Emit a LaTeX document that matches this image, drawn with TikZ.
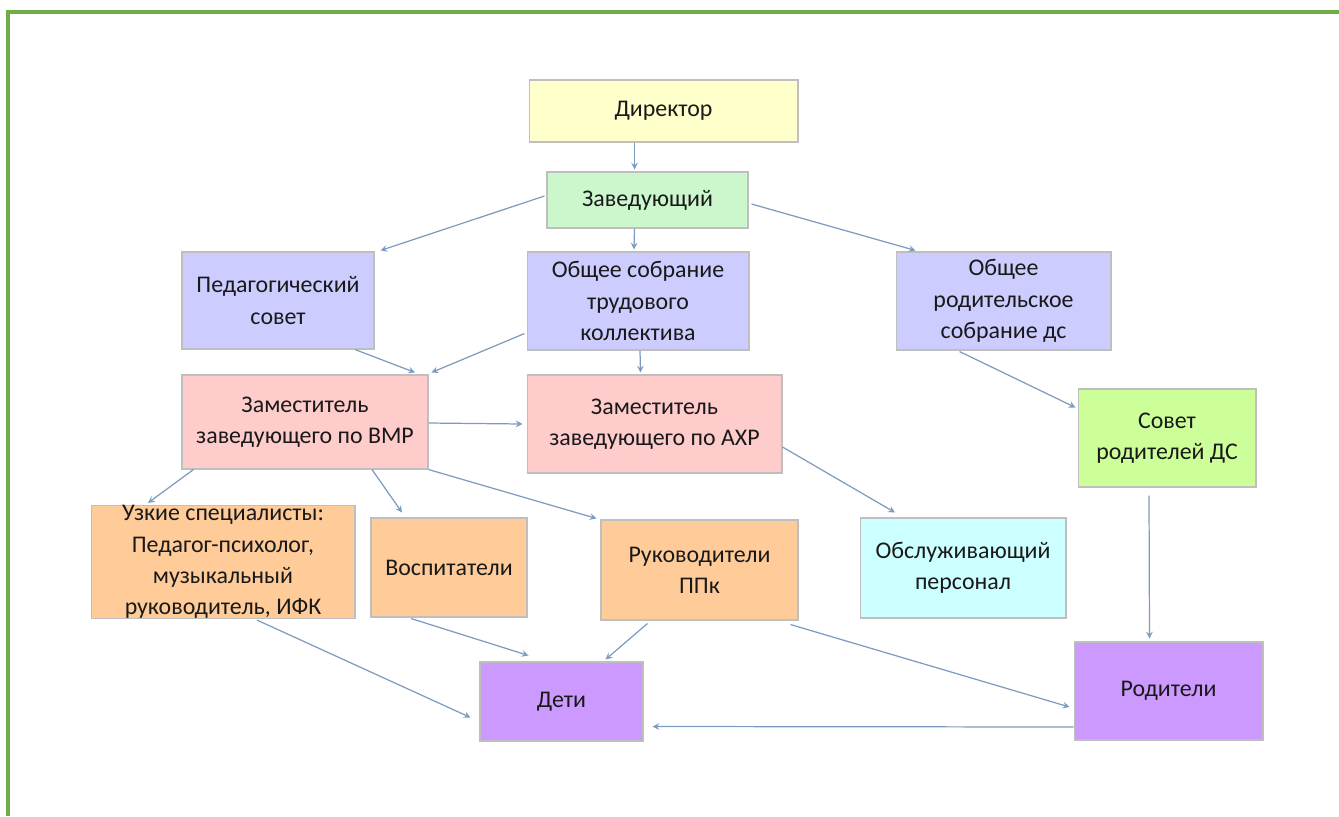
\documentclass[tikz,border=0pt]{standalone}
\usepackage{fontspec}
\setmainfont{Carlito}
\usetikzlibrary{arrows, calc}
\definecolor{frame}{RGB}{112,173,71}
\definecolor{link}{RGB}{125,155,190}
\definecolor{yel}{RGB}{255,255,204}
\definecolor{grn}{RGB}{204,247,204}
\definecolor{lav}{RGB}{204,204,255}
\definecolor{pnk}{RGB}{255,204,204}
\definecolor{lim}{RGB}{204,255,153}
\definecolor{org}{RGB}{255,204,153}
\definecolor{cyn}{RGB}{204,255,255}
\definecolor{prp}{RGB}{204,153,255}
\tikzstyle{unit} = [rectangle, inner sep=0pt, align=center, text=black!90, draw=black!25, line width=0.6pt, font=\fontsize{13.6}{17.8}\selectfont]
\tikzstyle{arrow} = [draw=link, line width=0.7pt, ->, >=stealth]

\begin{document}
\begin{tikzpicture}[x=0.02cm, y=-0.02cm]
\useasboundingbox (0,0) rectangle (1339,816);
\draw [frame, line width=0.08cm] (1339,12) -- (8,12) -- (8,816);

%% NODES

\node (dir) [unit, fill=yel, minimum width=5.38cm, minimum height=1.24cm] at (663.5,111) {Директор};
\node (zav) [unit, fill=grn, minimum width=4.02cm, minimum height=1.12cm] at (647.5,200) {Заведующий};
\node (ped) [unit, fill=lav, minimum width=3.84cm, minimum height=1.94cm] at (278,300.5) {Педагогический\\совет};
\node (sobr) [unit, fill=lav, minimum width=4.44cm, minimum height=1.96cm] at (638,301) {Общее собрание\\трудового\\коллектива};
\node (rod) [unit, fill=lav, minimum width=4.30cm, minimum height=1.96cm] at (1003.5,301) {Общее\\родительское\\собрание дс};
\node (vmr) [unit, fill=pnk, minimum width=4.92cm, minimum height=1.88cm] at (305,422) {Заместитель\\заведующего по ВМР};
\node (ahr) [unit, fill=pnk, minimum width=5.10cm, minimum height=1.96cm] at (654.5,424) {Заместитель\\заведующего по АХР};
\node (sovet) [unit, fill=lim, minimum width=3.56cm, minimum height=1.96cm] at (1167,438) {Совет\\родителей ДС};
\node (uzk) [unit, fill=org, minimum width=5.28cm, minimum height=2.24cm] at (223,562) {Узкие специалисты:\\Педагог-психолог,\\музыкальный\\руководитель, ИФК};
\node (vosp) [unit, fill=org, minimum width=3.12cm, minimum height=1.98cm] at (449,567.5) {Воспитатели};
\node (ppk) [unit, fill=org, minimum width=3.94cm, minimum height=2.00cm] at (699.5,570) {Руководители\\ППк};
\node (obsl) [unit, fill=cyn, minimum width=4.12cm, minimum height=2.00cm] at (963,568) {Обслуживающий\\персонал};
\node (deti) [unit, fill=prp, minimum width=3.26cm, minimum height=1.58cm] at (561.5,701.5) {Дети};
\node (roditeli) [unit, fill=prp, minimum width=3.78cm, minimum height=1.96cm] at (1168.5,691) {Родители};

%% ARROWS

\draw [arrow] ($(dir.south)+(-29,0)$) -- ($(zav.north)+(-13,-2)$);
\draw [arrow] ($(zav.west)+(-2,-4)$) -- ($(ped.north east)+(6,-1)$);
\draw [arrow] ($(zav.south)+(-13,0)$) -- ($(sobr.north)+(-4,-2)$);
\draw [arrow] ($(zav.east)+(3,4)$) -- ($(rod.north west)+(20,-1)$);
\draw [arrow] ($(ped.south)+(77,0)$) -- ($(vmr.north)+(110,-2)$);
\draw [arrow] ($(sobr.south west)+(-2,-17)$) -- ($(vmr.north east)+(3,-2)$);
\draw [arrow] ($(sobr.south)+(2,0)$) -- ($(ahr.north)+(-14,-2)$);
\draw [arrow] ($(vmr.east)+(0,1)$) -- ($(ahr.west)+(-4,0)$);
\draw [arrow] ($(vmr.south west)+(12,0)$) -- ($(uzk.north)+(-75,-2)$);
\draw [arrow] ($(vmr.south)+(67,0)$) -- ($(vosp.north)+(-47,-5)$);
\draw [arrow] (vmr.south east) -- ($(ppk.north west)+(-4,-1)$);
\draw [arrow] ($(ahr.east)+(0,23)$) -- ($(obsl.north)+(-68,-5)$);
\draw [arrow] ($(rod.south)+(-44,1)$) -- ($(sovet.north west)+(-2,19)$);
\draw [arrow] ($(sovet.south)+(-18,8)$) -- ($(roditeli.north)+(-19,-3)$);
\draw [arrow] ($(uzk.south)+(34,1)$) -- ($(deti.west)+(-9,16)$);
\draw [arrow] ($(vosp.south)+(-38,1)$) -- ($(deti.north)+(-33,-6)$);
\draw [arrow] ($(ppk.south)+(-52,3)$) -- ($(deti.north)+(44,-2)$);
\draw [arrow] ($(ppk.south east)+(-8,4)$) -- ($(roditeli.west)+(-4,16)$);
\draw [arrow] ($(roditeli.west)+(0,36)$) -- ($(deti.east)+(9,25)$);

\end{tikzpicture}
\end{document}
